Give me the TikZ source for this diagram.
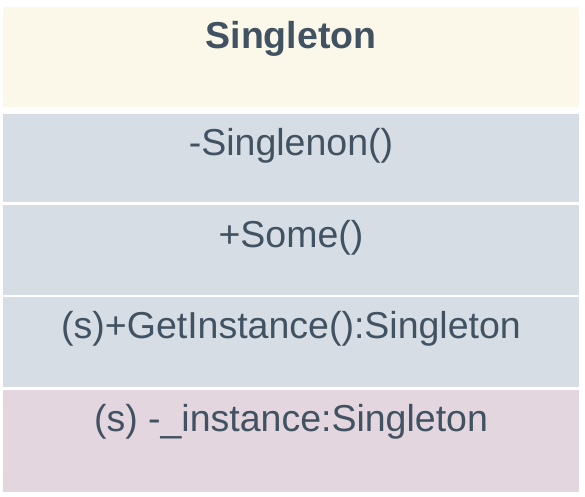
\documentclass[tikz,border=0pt]{standalone}
\usepackage{fontspec}
\setmainfont{Liberation Sans}
\definecolor{headfill}{HTML}{FBF8E9}
\definecolor{opfill}{HTML}{D7DDE4}
\definecolor{attrfill}{HTML}{E3D6DE}
\definecolor{textcol}{HTML}{415262}

\begin{document}
\begin{tikzpicture}[x=1pt, y=1pt, part/.style={rectangle, draw=none, inner sep=0pt, minimum width=576pt, anchor=north west}, txt/.style={anchor=base, text=textcol, inner sep=0pt, font=\fontsize{37.5}{44}\selectfont}]
            \useasboundingbox (0,0) rectangle (585,496);
            % compartments
            \node[part, fill=headfill, minimum height=100pt] (head) at (3,489) {};
            \node[part, fill=opfill, minimum height=88pt] (op1) at (3,382) {};
            \node[part, fill=opfill, minimum height=90pt] (op2) at (3,291) {};
            \node[part, fill=opfill, minimum height=90pt] (op3) at (3,199) {};
            \node[part, fill=attrfill, minimum height=102pt] (attr) at (3,106) {};
            % labels
            \node[txt, font=\fontsize{37.5}{44}\selectfont\bfseries] (name) at (291,447) {Singleton};
            \node[txt] (ctor) at (291,341) {-Singlenon()};
            \node[txt] (some) at (291,249) {+Some()};
            \node[txt] (get) at (291,158) {(s)+GetInstance():Singleton};
            \node[txt] (inst) at (291,65) {(s) -\_instance:Singleton};
        \end{tikzpicture}
\end{document}
